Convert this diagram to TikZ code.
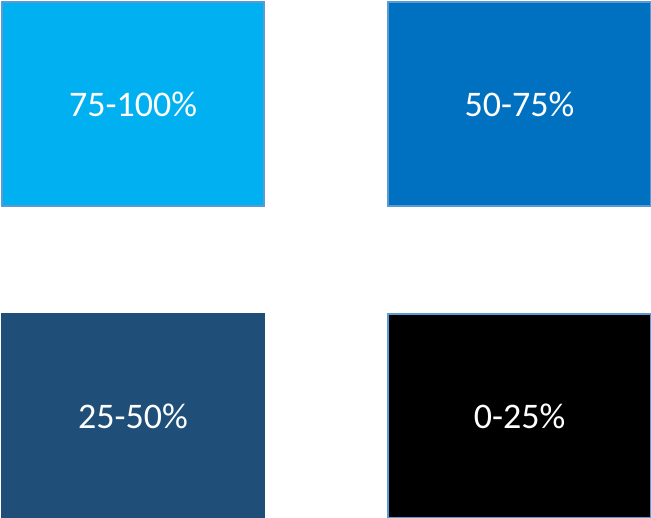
\documentclass[tikz,border=0pt]{standalone}
\usepackage{fontspec}
\setmainfont{Carlito}
\definecolor{cA}{HTML}{00B0F0}
\definecolor{cB}{HTML}{0070C0}
\definecolor{cC}{HTML}{1F4E79}
\definecolor{cBorder}{HTML}{5B9BD5}
\begin{document}
\begin{tikzpicture}[x=1pt,y=-1pt,
  cell/.style={draw=cBorder,line width=2pt,minimum width=262pt,minimum height=204pt,inner sep=0pt,text=white,font=\fontsize{36}{42}\selectfont,anchor=north west}]
\useasboundingbox (0,0) rectangle (651,518);
\node[cell,fill=cA] (a) at (1,1) {75-100\%};
\node[cell,fill=cB,minimum width=263pt] (b) at (387,1) {50-75\%};
\node[cell,fill=cC,draw=cC] (c) at (1,313) {25-50\%};
\node[cell,fill=black,minimum width=263pt] (d) at (387,313) {0-25\%};
\end{tikzpicture}
\end{document}
